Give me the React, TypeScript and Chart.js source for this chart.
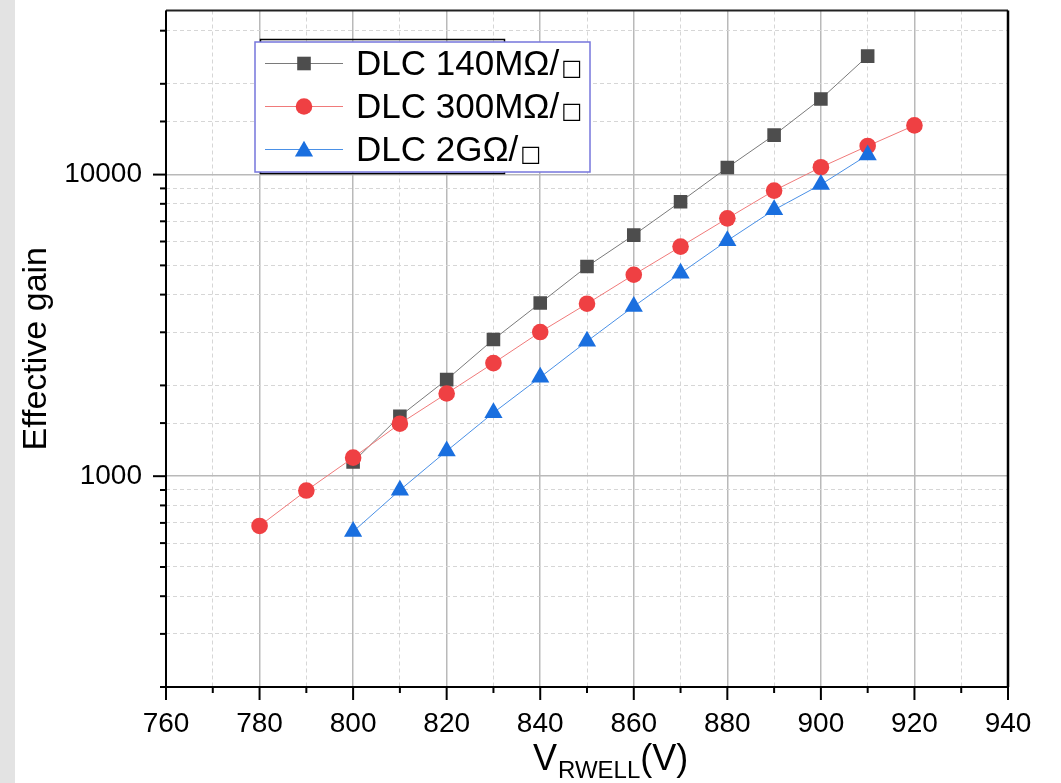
import React, { useEffect, useRef } from 'react';
import { Chart, registerables } from 'chart.js';

Chart.register(...registerables);

// ---- data ----
const voltage140 = [800, 810, 820, 830, 840, 850, 860, 870, 880, 890, 900, 910];
const gain140 = [1115, 1581, 2090, 2840, 3750, 4956, 6300, 8130, 10550, 13520, 17820, 24710];

const voltage300 = [780, 790, 800, 810, 820, 830, 840, 850, 860, 870, 880, 890, 900, 910, 920];
const gain300 = [684, 896, 1152, 1493, 1880, 2371, 3006, 3731, 4655, 5770, 7160, 8850, 10580, 12440, 14560];

const voltage2G = [800, 810, 820, 830, 840, 850, 860, 870, 880, 890, 900, 910];
const gain2G = [655, 899, 1212, 1623, 2128, 2800, 3656, 4710, 6040, 7640, 9270, 11620];

const seriesLabels = ['DLC 140MΩ/', 'DLC 300MΩ/', 'DLC 2GΩ/'];
const squareGlyph = '□';
const yLabeledTicks = [1000, 10000];
const xMin = 760;
const xMax = 940;
const xStep = 10;
const xLabelStep = 20;
const yMin = 200;
const yMax = 35000;
const yTitle = 'Effective gain';
const xTitleMain = 'V';
const xTitleSub = 'RWELL';
const xTitleUnit = '(V)';

const FONT = "'Liberation Sans', Arial, sans-serif";

const colors = {
  gray: { point: '#4d4d4d', line: '#7a7a7a' },
  red: { point: '#ef4043', line: '#f07a7a' },
  blue: { point: '#1a6fdf', line: '#4a90e6' },
};

const isMajorX = (v: number) => v % xLabelStep === 0;
const isMajorY = (v: number) => yLabeledTicks.includes(v);

function drawMarker(ctx: CanvasRenderingContext2D, style: string, x: number, y: number, color: string) {
  ctx.fillStyle = color;
  ctx.beginPath();
  if (style === 'rect') {
    const s = 6.8;
    ctx.rect(x - s, y - s, 2 * s, 2 * s);
  } else if (style === 'circle') {
    ctx.arc(x, y, 8.3, 0, Math.PI * 2);
  } else {
    const r = 10.5;
    ctx.moveTo(x, y - r * 0.75 - 1);
    ctx.lineTo(x + r * 0.866, y + r * 0.75 - 1);
    ctx.lineTo(x - r * 0.866, y + r * 0.75 - 1);
    ctx.closePath();
  }
  ctx.fill();
}

const decorPlugin = {
  id: 'decor',
  afterDraw(chart: any) {
    const { ctx, chartArea: a, scales } = chart;
    const xs = scales.x;
    const ys = scales.y;
    ctx.save();

    // tick marks
    ctx.strokeStyle = '#000';
    ctx.lineWidth = 2;
    xs.ticks.forEach((t: any) => {
      const px = xs.getPixelForValue(t.value);
      const len = isMajorX(t.value) ? 13 : 6;
      ctx.beginPath();
      ctx.moveTo(px, a.bottom);
      ctx.lineTo(px, a.bottom + len);
      ctx.stroke();
    });
    ys.ticks.forEach((t: any) => {
      if (t.value >= yMax) return;
      const py = ys.getPixelForValue(t.value);
      const len = isMajorY(t.value) ? 13 : 6;
      ctx.beginPath();
      ctx.moveTo(a.left, py);
      ctx.lineTo(a.left - len, py);
      ctx.stroke();
    });

    // frame
    ctx.strokeStyle = '#222';
    ctx.lineWidth = 2;
    ctx.beginPath();
    ctx.moveTo(a.left, a.top);
    ctx.lineTo(a.right, a.top);
    ctx.stroke();
    ctx.strokeStyle = '#000';
    ctx.lineWidth = 2.5;
    ctx.beginPath();
    ctx.moveTo(a.right, a.top);
    ctx.lineTo(a.right, a.bottom);
    ctx.stroke();
    ctx.lineWidth = 2;
    ctx.beginPath();
    ctx.moveTo(a.left, a.top);
    ctx.lineTo(a.left, a.bottom);
    ctx.lineTo(a.right, a.bottom);
    ctx.stroke();

    // axis titles
    ctx.fillStyle = '#000';
    ctx.textBaseline = 'alphabetic';
    ctx.save();
    ctx.translate(46, (a.top + a.bottom) / 2);
    ctx.rotate(-Math.PI / 2);
    ctx.textAlign = 'center';
    ctx.font = `34px ${FONT}`;
    ctx.fillText(yTitle, 0, 0);
    ctx.restore();

    ctx.textAlign = 'left';
    let tx = 533;
    ctx.font = `36px ${FONT}`;
    ctx.fillText(xTitleMain, tx, 770);
    tx += ctx.measureText(xTitleMain).width + 1;
    ctx.font = `24px ${FONT}`;
    ctx.fillText(xTitleSub, tx, 778);
    tx += ctx.measureText(xTitleSub).width;
    ctx.font = `36px ${FONT}`;
    ctx.fillText(xTitleUnit, tx, 770);

    // legend
    ctx.strokeStyle = '#000';
    ctx.lineWidth = 1.5;
    ctx.strokeRect(260.5, 39.5, 244, 134);
    ctx.fillStyle = '#fff';
    ctx.fillRect(255, 42, 335, 130);
    ctx.strokeStyle = '#7676dc';
    ctx.lineWidth = 1.5;
    ctx.strokeRect(255, 42, 335, 130);

    const items = [
      { style: 'rect', c: colors.gray, y: 63.5, base: 75 },
      { style: 'circle', c: colors.red, y: 106.5, base: 117.5 },
      { style: 'triangle', c: colors.blue, y: 149.5, base: 160.5 },
    ];
    items.forEach((it, i) => {
      ctx.strokeStyle = it.c.line;
      ctx.lineWidth = 1.2;
      ctx.beginPath();
      ctx.moveTo(265, it.y);
      ctx.lineTo(343, it.y);
      ctx.stroke();
      drawMarker(ctx, it.style, 304, it.y, it.c.point);
      ctx.fillStyle = '#000';
      ctx.font = `35px ${FONT}`;
      ctx.textAlign = 'left';
      ctx.fillText(seriesLabels[i], 356, it.base);
      const w = ctx.measureText(seriesLabels[i]).width;
      ctx.font = `22px 'DejaVu Sans', sans-serif`;
      ctx.fillText(squareGlyph, 356 + w + 2, it.base);
    });

    ctx.restore();
  },
};

const pts = (xs: number[], ys: number[]) => xs.map((x, i) => ({ x, y: ys[i] }));

export default function App() {
  const ref = useRef<HTMLCanvasElement | null>(null);

  useEffect(() => {
    if (!ref.current) return;
    const gridColor = (major: boolean) => (major ? '#b9b9b9' : '#d6d6d6');
    const chart = new Chart(ref.current, {
      type: 'line',
      data: {
        datasets: [
          {
            label: seriesLabels[0],
            data: pts(voltage140, gain140),
            borderColor: colors.gray.line,
            backgroundColor: colors.gray.point,
            pointBackgroundColor: colors.gray.point,
            pointBorderWidth: 0,
            borderWidth: 1,
            pointStyle: 'rect',
            pointRadius: 9.6,
            order: 3,
          },
          {
            label: seriesLabels[1],
            data: pts(voltage300, gain300),
            borderColor: colors.red.line,
            backgroundColor: colors.red.point,
            pointBackgroundColor: colors.red.point,
            pointBorderWidth: 0,
            borderWidth: 1,
            pointStyle: 'circle',
            pointRadius: 8.3,
            order: 2,
          },
          {
            label: seriesLabels[2],
            data: pts(voltage2G, gain2G),
            borderColor: colors.blue.line,
            backgroundColor: colors.blue.point,
            pointBackgroundColor: colors.blue.point,
            pointBorderWidth: 0,
            borderWidth: 1,
            pointStyle: 'triangle',
            pointRadius: 10.5,
            order: 1,
          },
        ],
      },
      options: {
        responsive: false,
        animation: false,
        events: [],
        layout: { padding: { left: 0, right: 53, top: 7, bottom: 0 } },
        plugins: { legend: { display: false }, tooltip: { enabled: false } },
        scales: {
          x: {
            type: 'linear',
            min: xMin,
            max: xMax,
            afterFit: (s: any) => {
              s.height = 96;
              s.paddingLeft = 0;
              s.paddingRight = 0;
            },
            ticks: {
              stepSize: xStep,
              autoSkip: false,
              maxRotation: 0,
              padding: 20,
              color: '#000',
              font: { family: FONT, size: 28 },
              callback: (v: any) => (isMajorX(Number(v)) ? String(v) : ''),
            },
            grid: {
              drawTicks: false,
              color: (c: any) => gridColor(c.tick ? isMajorX(c.tick.value) : true),
              lineWidth: (c: any) => (c.tick && isMajorX(c.tick.value) ? 1.5 : 1),
            },
            border: {
              display: false,
              dash: (c: any) => (c.tick && !isMajorX(c.tick.value) ? [4, 3] : []),
            },
          },
          y: {
            type: 'logarithmic',
            min: yMin,
            max: yMax,
            afterFit: (s: any) => {
              s.width = 166;
              s.paddingTop = 0;
              s.paddingBottom = 0;
            },
            ticks: {
              autoSkip: false,
              padding: 24,
              color: '#000',
              font: { family: FONT, size: 28 },
              callback: (v: any) => (isMajorY(Number(v)) ? String(v) : ''),
            },
            grid: {
              drawTicks: false,
              color: (c: any) => gridColor(c.tick ? isMajorY(c.tick.value) : true),
              lineWidth: (c: any) => (c.tick && isMajorY(c.tick.value) ? 1.5 : 1),
            },
            border: {
              display: false,
              dash: (c: any) => (c.tick && !isMajorY(c.tick.value) ? [4, 3] : []),
            },
          },
        },
      },
      plugins: [decorPlugin],
    } as any);
    return () => chart.destroy();
  }, []);

  return (
    <div
      style={{
        position: 'fixed',
        left: 0,
        top: 0,
        width: 1061,
        height: 783,
        background: 'linear-gradient(to right, #e3e3e3 0px, #e3e3e3 15px, #ffffff 15px)',
      }}
    >
      <canvas ref={ref} width={1061} height={783} style={{ display: 'block' }} />
    </div>
  );
}
